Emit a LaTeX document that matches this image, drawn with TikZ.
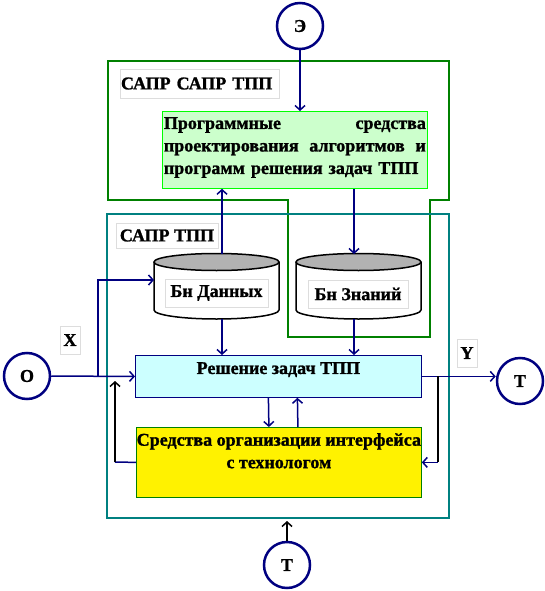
\documentclass[tikz,border=0pt]{standalone}
\usepackage{fontspec}
\setmainfont{Liberation Serif}[BoldFeatures={FakeBold=1.2}]
\usetikzlibrary{arrows.meta}
\definecolor{navyline}{RGB}{0,0,128}
\definecolor{saprgreen}{RGB}{0,128,0}
\definecolor{saprteal}{RGB}{0,128,128}
\definecolor{progfill}{RGB}{204,255,204}
\definecolor{reshfill}{RGB}{204,255,255}
\definecolor{tagline}{RGB}{221,221,221}

\begin{document}
\begin{tikzpicture}[x=1pt, y=-1pt,
    txt/.style={font=\fontsize{18}{22.5}\selectfont\bfseries},
    tag/.style={txt, draw=tagline, fill=white, inner sep=1pt},
    ext/.style={txt, circle, draw=navyline, line width=2.5pt, minimum size=46pt, inner sep=0pt},
    flow/.style={navyline, line width=1.5pt, -{Straight Barb[length=4.5pt,width=10pt]}},
    back/.style={black, line width=1.5pt, -{Straight Barb[length=4.5pt,width=10pt]}},
    cylbody/.style={draw=black, fill=white, line width=1.5pt},
    cyltop/.style={draw=black, fill=black!30, line width=1.5pt}]
  \useasboundingbox (0,0) rectangle (545,591);
  % --- contours of the two systems
  \draw[saprgreen, line width=2pt] (108,61) -- (449,61) -- (449,200) -- (430,200)
       -- (430,337) -- (288,337) -- (288,200) -- (108,200) -- cycle;
  \draw[saprteal, line width=2.5pt] (107,214) rectangle (449,518);
  \node (lsapr2) [tag, text width=157pt, align=left, minimum height=29pt] at (199.5,83.5) {САПР САПР ТПП};
  \node (lsapr) [tag, minimum width=102pt, minimum height=25pt] at (167,235.5) {САПР ТПП};
  % --- external sources
  \node (e) [ext] at (300,26) {Э};
  \node (o) [ext] at (27,376) {О};
  \node (t1) [ext] at (520,381) {Т};
  \node (t2) [ext] at (287,565) {Т};
  % --- program tools
  \node (prog) [draw=green, fill=progfill, minimum width=265pt, minimum height=77pt,
       anchor=north west, line width=0.8pt] at (162,111) {};
  \node (progtxt) [txt, anchor=north, text width=262pt, align=left, inner sep=0pt]
       at ([yshift=-6pt]prog.north)
       {Программные\hfill средства\\проектирования\hfill алгоритмов\hfill и\\программ решения задач ТПП};
  % --- data and knowledge bases
  \draw[cylbody] (154,262) -- (154,310) arc[start angle=180, end angle=0, x radius=62.5, y radius=9] -- (279,262);
  \draw[cyltop] (216.5,262) ellipse [x radius=62.5, y radius=8.5];
  \draw[cylbody] (296,262) -- (296,310) arc[start angle=180, end angle=0, x radius=62.5, y radius=9] -- (421,262);
  \draw[cyltop] (358.5,262) ellipse [x radius=62.5, y radius=8.5];
  \node (bd) [tag, minimum width=103pt, minimum height=28pt] at (216.5,293) {Бн Данных};
  \node (bz) [tag, minimum width=100pt, minimum height=28pt] at (358,294) {Бн Знаний};
  \coordinate (bdtop) at (222,254);
  \coordinate (bdbot) at (222,319);
  \coordinate (bdin) at (154,280);
  \coordinate (bztop) at (354,254);
  \coordinate (bzbot) at (354,319);
  % --- solving and interface
  \node (resh) [draw=navyline, fill=reshfill, minimum width=286pt, minimum height=42pt,
       anchor=north west, line width=0.8pt] at (135,355) {};
  \node (reshtxt) [txt, anchor=north, inner sep=0pt] at ([yshift=-7pt]resh.north) {Решение задач ТПП};
  \node (intf) [draw=saprgreen, fill=yellow, minimum width=285pt, minimum height=70pt,
       anchor=north west, line width=0.8pt] at (136,427) {};
  \node (intftxt) [txt, anchor=north, align=center, inner sep=0pt] at ([yshift=-6pt]intf.north)
       {Средства организации интерфейса\\с технологом};
  \node (lx) [tag, minimum width=20pt, minimum height=28pt] at (70,340) {X};
  \node (ly) [tag, minimum width=20pt, minimum height=28pt] at (467,353) {Y};
  % --- connectors
  \coordinate (xbr) at (98,376);
  \coordinate (rfb) at (438,376);
  \coordinate (lfb) at (115,462);
  \coordinate (lfbtop) at (115,381);
  \coordinate (tin) at (287,521);
  \draw[flow] (e) -- (prog.north -| e);
  \draw[flow] (bdtop) -- (prog.south -| bdtop);
  \draw[flow] (prog.south -| bztop) -- (bztop);
  \draw[flow] (bdbot) -- (resh.north -| bdbot);
  \draw[flow] (bzbot) -- (resh.north -| bzbot);
  \draw[flow] (o) -- (resh.west);
  \draw[flow] (xbr) |- (bdin);
  \draw[flow] (resh.east) -- (resh.east -| t1.west);
  \draw[flow] ([xshift=-10pt]resh.south) -- ([xshift=-10pt]intf.north);
  \draw[flow] ([xshift=19pt]intf.north) -- ([xshift=19pt]resh.south);
  \draw[navyline, line width=1.5pt] (intf.west) -- (lfb);
  \draw[back] (lfb) -- (lfbtop);
  \draw[black, line width=1.5pt] (rfb) -- (rfb |- intf.east);
  \draw[flow] (rfb |- intf.east) -- (intf.east);
  \draw[back] (t2) -- (tin);
\end{tikzpicture}
\end{document}
